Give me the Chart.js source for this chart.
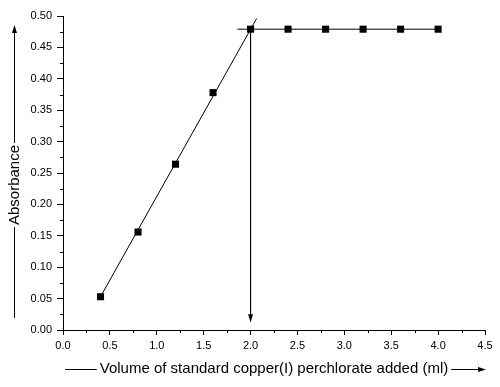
<!DOCTYPE html>
<html><head><meta charset="utf-8">
<script src="https://cdn.jsdelivr.net/npm/chart.js@4/dist/chart.umd.min.js"></script>
<style>html,body{margin:0;padding:0;background:#fff;overflow:hidden}</style>
</head><body>
<canvas id="c" width="500" height="387"></canvas>
<script>
// ---- data ----
const volumes    = [0.4, 0.8, 1.2, 1.6, 2.0, 2.4, 2.8, 3.2, 3.6, 4.0];
const absorbance = [0.053, 0.156, 0.264, 0.378, 0.479, 0.479, 0.479, 0.479, 0.479, 0.479];
const fitX = [0.4, 2.065];
const fitY = [0.053, 0.496];
const plateauX = [1.86, 4.0];
const plateauY = [0.479, 0.479];
const endpointX = [2.0, 2.0];
const endpointY = [0.479, 0.014];
const xMajorTicks = [0, 0.5, 1.0, 1.5, 2.0, 2.5, 3.0, 3.5, 4.0, 4.5];
const yMajorTicks = [0, 0.05, 0.10, 0.15, 0.20, 0.25, 0.30, 0.35, 0.40, 0.45, 0.50];
const xTitle = 'Volume of standard copper(I) perchlorate added (ml)';
const yTitle = 'Absorbance';

const pts = (xs, ys) => xs.map((x, i) => ({x, y: ys[i]}));

Chart.defaults.font.family = '"Liberation Sans", Arial, sans-serif';
Chart.defaults.font.size = 11;
Chart.defaults.color = '#000';

const decor = {
  id: 'decor',
  afterDraw(chart) {
    const ctx = chart.ctx, xs = chart.scales.x, ys = chart.scales.y, ca = chart.chartArea;
    ctx.save();
    ctx.strokeStyle = '#000'; ctx.fillStyle = '#000'; ctx.lineWidth = 1;
    // minor ticks
    ctx.beginPath();
    for (let i = 0; i < xMajorTicks.length - 1; i++) {
      const v = (xMajorTicks[i] + xMajorTicks[i+1]) / 2;
      const px = Math.round(xs.getPixelForValue(v)) + 0.5;
      ctx.moveTo(px, ca.bottom); ctx.lineTo(px, ca.bottom + 3);
    }
    for (let i = 0; i < yMajorTicks.length - 1; i++) {
      const v = (yMajorTicks[i] + yMajorTicks[i+1]) / 2;
      const py = Math.round(ys.getPixelForValue(v)) + 0.5;
      ctx.moveTo(ca.left, py); ctx.lineTo(ca.left - 3, py);
    }
    ctx.stroke();
    // arrowhead of end-point line
    const ax = xs.getPixelForValue(endpointX[1]), ay = ys.getPixelForValue(endpointY[1]);
    ctx.beginPath();
    ctx.moveTo(ax, ay + 1); ctx.lineTo(ax - 2.5, ay - 7); ctx.lineTo(ax + 2.5, ay - 7); ctx.closePath(); ctx.fill();

    // x title with arrow line
    ctx.font = '15px "Liberation Sans", Arial, sans-serif';
    ctx.textBaseline = 'middle'; ctx.textAlign = 'center';
    const cx = (ca.left + ca.right) / 2, ty = 369;
    ctx.fillText(xTitle, cx, ty);
    const w = ctx.measureText(xTitle).width;
    ctx.beginPath();
    ctx.moveTo(65, ty + 0.5); ctx.lineTo(cx - w/2 - 3, ty + 0.5);
    ctx.moveTo(cx + w/2 + 3, ty + 0.5); ctx.lineTo(480, ty + 0.5);
    ctx.stroke();
    ctx.beginPath();
    ctx.moveTo(486, ty + 0.5); ctx.lineTo(478, ty - 2); ctx.lineTo(478, ty + 3); ctx.closePath(); ctx.fill();

    // y title with arrow line
    const tx = 15, cy = 185;
    ctx.save();
    ctx.translate(tx, cy); ctx.rotate(-Math.PI/2);
    ctx.fillText(yTitle, 0, 0);
    const wy = ctx.measureText(yTitle).width;
    ctx.restore();
    ctx.beginPath();
    ctx.moveTo(14.5, 318); ctx.lineTo(14.5, cy + wy/2 + 2);
    ctx.moveTo(14.5, cy - wy/2 - 2); ctx.lineTo(14.5, 32);
    ctx.stroke();
    ctx.beginPath();
    ctx.moveTo(14.5, 25); ctx.lineTo(12, 33); ctx.lineTo(17, 33); ctx.closePath(); ctx.fill();
    ctx.restore();
  }
};

const lineDs = (data) => ({type: 'scatter', data, showLine: true, borderColor: '#000', borderWidth: 1,
  pointRadius: 0, pointHoverRadius: 0, fill: false, tension: 0});

new Chart(document.getElementById('c'), {
  type: 'scatter',
  data: {
    datasets: [
      {data: pts(volumes, absorbance), showLine: false, pointStyle: 'rect', pointRadius: 5,
       backgroundColor: '#000', borderColor: '#000', borderWidth: 0},
      lineDs(pts(fitX, fitY)),
      lineDs(pts(plateauX, plateauY)),
      lineDs(pts(endpointX, endpointY))
    ]
  },
  options: {
    responsive: false, animation: false, devicePixelRatio: 1,
    layout: {padding: {left: 0, right: 15, top: 16, bottom: 0}},
    plugins: {legend: {display: false}, tooltip: {enabled: false}},
    scales: {
      x: {
        type: 'linear', min: 0, max: 4.5,
        afterBuildTicks: s => { s.ticks = xMajorTicks.map(v => ({value: v})); },
        afterFit: s => { s.height = 57; },
        ticks: {callback: v => Number(v).toFixed(1), padding: 4, maxRotation: 0, autoSkip: false, color: '#000'},
        grid: {drawOnChartArea: false, drawTicks: true, tickLength: 5, color: '#000', tickColor: '#000'},
        border: {color: '#000', width: 1}
      },
      y: {
        type: 'linear', min: 0, max: 0.5,
        afterBuildTicks: s => { s.ticks = yMajorTicks.map(v => ({value: v})); },
        afterFit: s => { s.width = 63; },
        ticks: {callback: v => Number(v).toFixed(2), padding: 5, autoSkip: false, color: '#000'},
        grid: {drawOnChartArea: false, drawTicks: true, tickLength: 6, color: '#000', tickColor: '#000'},
        border: {color: '#000', width: 1}
      }
    }
  },
  plugins: [decor]
});
</script>
</body></html>
